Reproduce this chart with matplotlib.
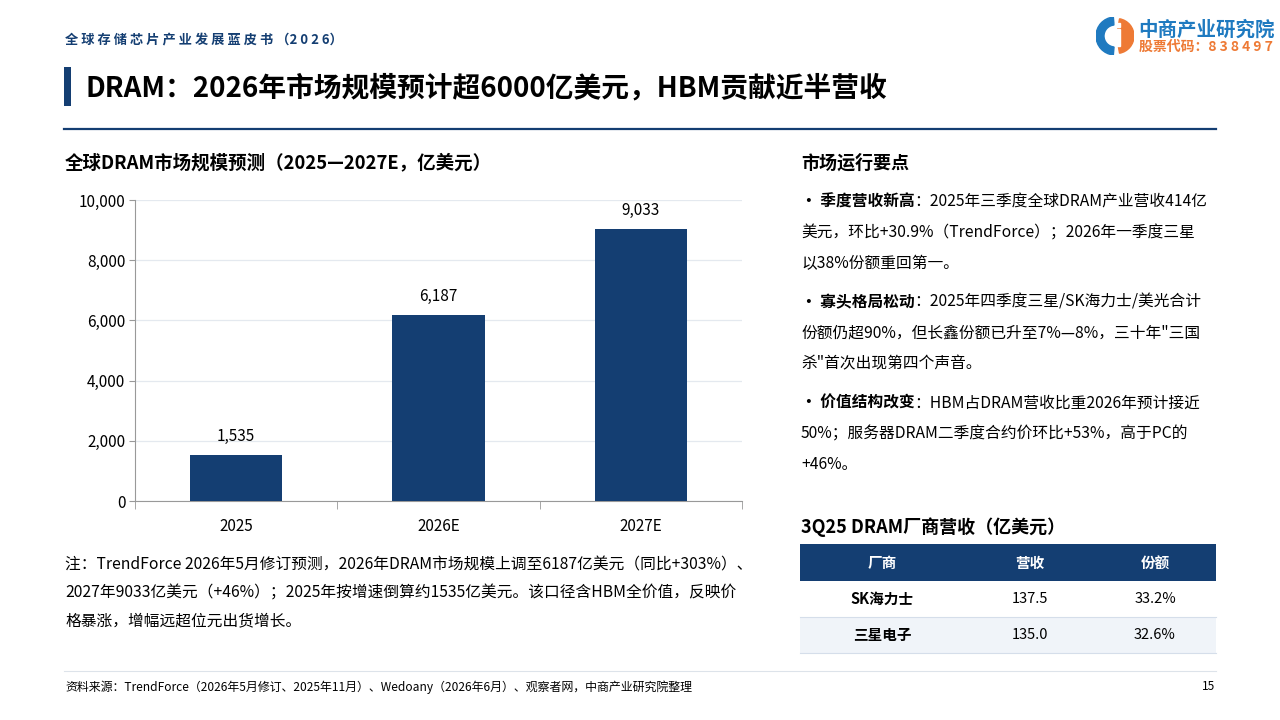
import matplotlib
matplotlib.use("Agg")
import matplotlib.pyplot as plt
from matplotlib.patches import Rectangle, Wedge

plt.rcParams['font.family'] = ['Noto Sans CJK SC', 'DejaVu Sans']

# data
years = ['2025', '2026E', '2027E']
market_size = [1535, 6187, 9033]
vendors = ['SK海力士', '三星电子']
revenue = ['137.5', '135.0']
share = ['33.2%', '32.6%']
table_cols = ['厂商', '营收', '份额']

NAVY = '#143e72'
ORANGE = '#ee7a35'
W, H = 1280, 720

fig = plt.figure(figsize=(12.8, 7.2), dpi=100)
fig.patch.set_facecolor('white')


def px(x, y):
    return x / W, 1 - y / H


def txt(x, y, s, **kw):
    kw.setdefault('va', 'center')
    return fig.text(*px(x, y), s, **kw)


def rect(x, y, w, h, color, **kw):
    fig.patches.append(Rectangle(px(x, y + h), w / W, h / H, transform=fig.transFigure,
                                 facecolor=color, edgecolor='none', **kw))


def hline(x0, x1, y, color, lw):
    fig.add_artist(plt.Line2D([x0 / W, x1 / W], [1 - y / H, 1 - y / H], color=color, lw=lw))


# header
txt(65, 40, '全 球 存 储 芯 片 产 业 发 展 蓝 皮 书 （2 0 2 6）', fontsize=9.5, color=NAVY, fontweight='bold')
rect(64, 67, 7, 39, NAVY)
txt(86, 88, 'DRAM：2026年市场规模预计超6000亿美元，HBM贡献近半营收', fontsize=20, fontweight='bold', color='black')
hline(64, 1216, 129, NAVY, 1.6)

# logo
lax = fig.add_axes([1096 / W, 1 - 55 / H, 38 / W, 38 / H])
lax.set_xlim(-1, 1)
lax.set_ylim(-1, 1)
lax.set_aspect('equal')
lax.axis('off')
lax.add_patch(Wedge((0, 0), 1, 95, 265, width=0.42, color='#1f7ac0'))
lax.add_patch(Wedge((0.08, 0), 0.92, -80, 80, color=ORANGE))
lax.add_patch(Rectangle((0.02, -0.55), 0.22, 0.9, color='white'))
lax.add_patch(Rectangle((0.02, 0.5), 0.22, 0.2, color='white'))
txt(1138, 30, '中商产业研究院', fontsize=14, fontweight='bold', color='#1f7ac0')
txt(1139, 47, '股票代码：8 3 8 4 9 7', fontsize=10, fontweight='bold', color=ORANGE)

# chart
txt(65, 163, '全球DRAM市场规模预测（2025—2027E，亿美元）', fontsize=13.3, fontweight='bold')
ax = fig.add_axes([135 / W, 1 - 501 / H, 607 / W, 301 / H])
bars = ax.bar(range(len(years)), market_size, width=0.455, color=NAVY, zorder=3)
for b, v in zip(bars, market_size):
    ax.annotate(f'{v:,}', (b.get_x() + b.get_width() / 2, v), xytext=(0, 7),
                textcoords='offset points', ha='center', va='bottom', fontsize=11)
ax.set_xlim(-0.5, 2.5)
ax.set_ylim(0, 10000)
ax.set_yticks(range(0, 10001, 2000))
ax.set_yticklabels([f'{v:,}' for v in range(0, 10001, 2000)])
ax.set_xticks(range(len(years)))
ax.set_xticklabels(years)
ax.set_xticks([-0.5, 0.5, 1.5, 2.5], minor=True)
ax.tick_params(axis='x', which='major', length=0, pad=12, labelsize=11)
ax.tick_params(axis='x', which='minor', length=6, color='#999999')
ax.tick_params(axis='y', length=4, color='#999999', labelsize=11, pad=3)
ax.grid(axis='y', color='#e4e9ef', lw=0.9, zorder=0)
for s in ['top', 'right']:
    ax.spines[s].set_visible(False)
ax.spines['left'].set_color('#999999')
ax.spines['bottom'].set_color('#999999')

# note
note = ['注：TrendForce 2026年5月修订预测，2026年DRAM市场规模上调至6187亿美元（同比+303%）、',
        '2027年9033亿美元（+46%）；2025年按增速倒算约1535亿美元。该口径含HBM全价值，反映价',
        '格暴涨，增幅远超位元出货增长。']
for i, line in enumerate(note):
    txt(65, 565 + i * 28, line, fontsize=11.3)

# right panel
txt(801, 163, '市场运行要点', fontsize=13, fontweight='bold')
bullets = [
    ('· 季度营收新高', '：2025年三季度全球DRAM产业营收414亿',
     ['美元，环比+30.9%（TrendForce）；2026年一季度三星', '以38%份额重回第一。'], 202),
    ('· 寡头格局松动', '：2025年四季度三星/SK海力士/美光合计',
     ['份额仍超90%，但长鑫份额已升至7%—8%，三十年"三国', '杀"首次出现第四个声音。'], 302),
    ('· 价值结构改变', '：HBM占DRAM营收比重2026年预计接近',
     ['50%；服务器DRAM二季度合约价环比+53%，高于PC的', '+46%。'], 403),
]
renderer = fig.canvas.get_renderer()
for head, rest, more, y0 in bullets:
    t = txt(801, y0, head, fontsize=11.3, fontweight='bold')
    bb = t.get_window_extent(renderer)
    fig.text(bb.x1 / W, 1 - y0 / H, rest, fontsize=11.3, va='center')
    for j, line in enumerate(more):
        txt(801, y0 + 31 * (j + 1), line, fontsize=11.3)

# table
txt(801, 527, '3Q25 DRAM厂商营收（亿美元）', fontsize=13, fontweight='bold')
rect(800, 544, 416, 37, NAVY)
rect(800, 617, 416, 36, '#f0f4f9')
hline(800, 1216, 617, '#d5deea', 0.8)
hline(800, 1216, 653, '#d5deea', 0.8)
col_x = [882, 1030, 1155]
for cx, c in zip(col_x, table_cols):
    txt(cx, 563, c, fontsize=10.5, fontweight='bold', color='white', ha='center')
for i in range(len(vendors)):
    yy = 599 + 36 * i
    txt(col_x[0], yy, vendors[i], fontsize=10.5, fontweight='bold', ha='center')
    txt(col_x[1], yy, revenue[i], fontsize=10.5, ha='center')
    txt(col_x[2], yy, share[i], fontsize=10.5, ha='center')

# footer
hline(64, 1216, 671, '#dde3ea', 0.8)
txt(65, 687, '资料来源：TrendForce（2026年5月修订、2025年11月）、Wedoany（2026年6月）、观察者网，中商产业研究院整理',
    fontsize=8.6)
txt(1215, 687, '15', fontsize=8.6, ha='right')

fig.savefig('out.png', dpi=100)
